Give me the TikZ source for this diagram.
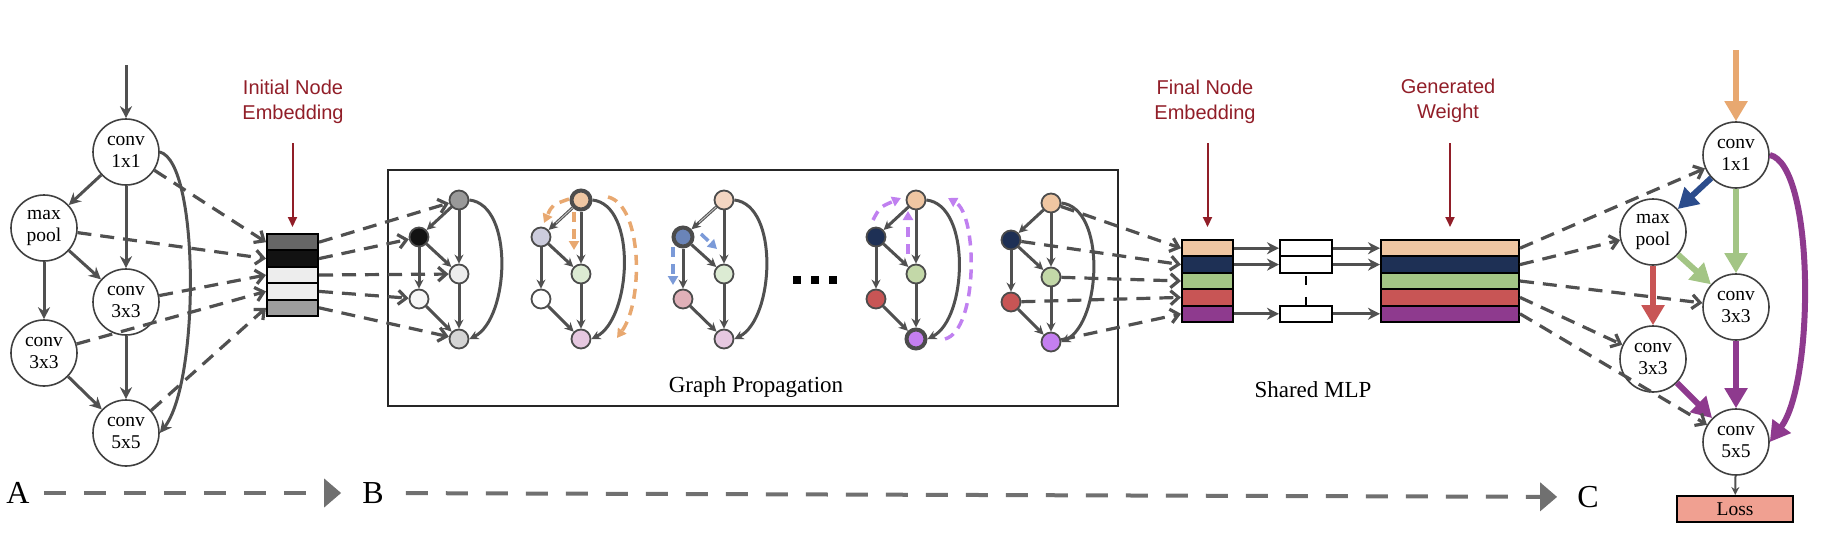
\documentclass[tikz,border=0pt]{standalone}
\usepackage{fontspec}
\setmainfont{Liberation Serif}
\newfontfamily\labelfont{Liberation Sans}
\usepackage{tikz}
\usetikzlibrary{arrows.meta}
\definecolor{dgray}{RGB}{80,80,80}
\definecolor{bgray}{RGB}{112,112,112}
\definecolor{embred}{RGB}{145,30,40}
\definecolor{peach}{RGB}{239,198,162}
\definecolor{peachl}{RGB}{244,214,194}
\definecolor{navy}{RGB}{30,48,85}
\definecolor{navyb}{RGB}{43,76,140}
\definecolor{greenc}{RGB}{163,197,133}
\definecolor{greenm}{RGB}{195,216,168}
\definecolor{greenl}{RGB}{220,235,211}
\definecolor{redc}{RGB}{200,85,85}
\definecolor{purplec}{RGB}{142,58,142}
\definecolor{purplel}{RGB}{196,127,240}
\definecolor{pinkl}{RGB}{230,200,224}
\definecolor{pinkc}{RGB}{224,176,184}
\definecolor{lav}{RGB}{204,204,221}
\definecolor{bluec}{RGB}{106,132,184}
\definecolor{orangec}{RGB}{232,168,112}
\definecolor{bluedash}{RGB}{123,154,216}
\definecolor{purdash}{RGB}{192,128,240}
\definecolor{lossc}{RGB}{240,160,145}

\begin{document}
\begin{tikzpicture}[x=1pt, y=-1pt,
  opnode/.style={circle, draw=black!75, line width=1.6pt, fill=white, minimum size=66pt, inner sep=0pt, align=center, font=\fontsize{19.5}{22}\selectfont},
  gnode/.style={circle, draw=black!70, line width=1.8pt, minimum size=19pt, inner sep=0pt},
  hot/.style={line width=4pt},
  edge/.style={draw=dgray, line width=3pt, -{Stealth[length=12pt,width=12pt]}},
  sedge/.style={draw=dgray, line width=3pt, -{Stealth[length=9pt,width=9pt]}},
  feed/.style={draw=dgray, line width=3.2pt, dash pattern=on 14pt off 9pt, -{Straight Barb[length=8pt,width=14pt]}},
  cell/.style={draw=black, line width=2pt, minimum height=16.4pt, inner sep=0pt},
  redlabel/.style={text=embred, font=\labelfont\fontsize{20}{25}\selectfont, align=center},
  redarrow/.style={draw=embred, line width=2pt, -{Triangle[length=10pt,width=9pt]}},
  msg/.style={line width=3.5pt, dash pattern=on 10pt off 7pt, -{Triangle[length=9pt,width=10pt]}},
  opflow/.style={line width=6pt, -{Triangle[length=20pt,width=22pt]}},
  phase/.style={draw=bgray, line width=4pt, dash pattern=on 22pt off 18pt, -{Triangle[length=17pt,width=28pt]}},
  caption/.style={font=\fontsize{23}{27}\selectfont},
  letter/.style={font=\fontsize{32}{36}\selectfont, inner sep=0pt}
]
\useasboundingbox (0,0) rectangle (1834,554);

\node[opnode] (c1) at (126,152) {conv\\1x1};
\node[opnode] (mp) at (44,228) {max\\pool};
\node[opnode] (c3) at (126,302) {conv\\3x3};
\node[opnode] (c3b) at (44,353) {conv\\3x3};
\node[opnode] (c5) at (126,433) {conv\\5x5};
\coordinate (in) at (126,65);
\draw[edge] (in) -- (c1);
\draw[edge] (c1) -- (mp);
\draw[edge] (c1) -- (c3);
\draw[edge] (mp) -- (c3);
\draw[edge] (mp) -- (c3b);
\draw[edge] (c3) -- (c5);
\draw[edge] (c3b) -- (c5);
\draw[edge] (c1.east) .. controls +(40,10) and +(40,-50) .. (c5.east);

\node[cell, minimum width=51pt, fill=black!60] (ie1) at (292.5,242.2) {};
\node[cell, minimum width=51pt, fill=black!93] (ie2) at (292.5,258.6) {};
\node[cell, minimum width=51pt, fill=black!7] (ie3) at (292.5,275) {};
\node[cell, minimum width=51pt, fill=black!7] (ie4) at (292.5,291.4) {};
\node[cell, minimum width=51pt, fill=black!38] (ie5) at (292.5,307.8) {};
\node[redlabel] (iel) at (293,102) {Initial Node\\Embedding};
\coordinate (ia) at (292.5,143);
\draw[redarrow, shorten >=6pt] (ia) -- (ie1.north);
\draw[feed] (c1) -- (ie1.west);
\draw[feed] (mp) -- (ie2.west);
\draw[feed] (c3) -- (ie3.west);
\draw[feed] (c3b) -- (ie4.west);
\draw[feed] (c5) -- (ie5.west);

\node[draw=black!85, line width=2pt, minimum width=730pt, minimum height=236pt, inner sep=0pt] (gp) at (753,288) {};
\node[caption] (gpl) at (756,387) {Graph Propagation};

\node[gnode, fill=black!40] (g1t) at (459,200) {};
\node[gnode, fill=black!93] (g1l) at (419,237) {};
\node[gnode, fill=black!7] (g1m) at (459,274) {};
\node[gnode, fill=black!3] (g1ll) at (419,299) {};
\node[gnode, fill=black!17] (g1b) at (459,339) {};
\draw[sedge] (g1t) -- (g1l);
\draw[sedge] (g1t) -- (g1m);
\draw[sedge] (g1l) -- (g1m);
\draw[sedge] (g1l) -- (g1ll);
\draw[sedge] (g1ll) -- (g1b);
\draw[sedge] (g1m) -- (g1b);
\draw[sedge] (g1t.east) .. controls +(45,5) and +(40,-20) .. (g1b.east);
\draw[feed] (ie1.east) -- (g1t);
\draw[feed] (ie2.east) -- (g1l);
\draw[feed] (ie3.east) -- (g1m);
\draw[feed] (ie4.east) -- (g1ll);
\draw[feed] (ie5.east) -- (g1b);

\node[gnode, hot, fill=peach] (g2t) at (581,200) {};
\node[gnode, fill=lav] (g2l) at (541,237) {};
\node[gnode, fill=greenl] (g2m) at (581,274) {};
\node[gnode, fill=white] (g2ll) at (541,299) {};
\node[gnode, fill=pinkl] (g2b) at (581,339) {};
\draw[sedge] (g2t) -- (g2l);
\draw[black!25, line width=1pt, shorten >=10pt] (g2t) -- (g2l);
\draw[sedge] (g2t) -- (g2m);
\draw[sedge] (g2l) -- (g2m);
\draw[sedge] (g2l) -- (g2ll);
\draw[sedge] (g2ll) -- (g2b);
\draw[sedge] (g2m) -- (g2b);
\draw[sedge] (g2t.east) .. controls +(45,5) and +(40,-20) .. (g2b.east);
\draw[msg, orangec] (569,199) .. controls (552,205) .. (544,223);
\draw[msg, orangec] (574,212) -- (574,250);
\draw[msg, orangec] (608,197) .. controls (642,205) and (644,300) .. (617,338);

\node[gnode, fill=peachl] (g3t) at (724,200) {};
\node[gnode, hot, fill=bluec] (g3l) at (683,237) {};
\node[gnode, fill=greenl] (g3m) at (724,274) {};
\node[gnode, fill=pinkc] (g3ll) at (683,299) {};
\node[gnode, fill=pinkl] (g3b) at (724,339) {};
\draw[sedge] (g3t) -- (g3l);
\draw[black!25, line width=1pt, shorten >=10pt] (g3t) -- (g3l);
\draw[sedge] (g3t) -- (g3m);
\draw[sedge] (g3l) -- (g3m);
\draw[sedge] (g3l) -- (g3ll);
\draw[sedge] (g3ll) -- (g3b);
\draw[sedge] (g3m) -- (g3b);
\draw[sedge] (g3t.east) .. controls +(45,5) and +(40,-20) .. (g3b.east);
\draw[msg, bluedash] (701,234) -- (717,249);
\draw[msg, bluedash] (673,247) -- (673,285);

\fill (793,276) rectangle (801,284);
\fill (811,276) rectangle (819,284);
\fill (829,276) rectangle (837,284);

\node[gnode, fill=peach] (g4t) at (916,200) {};
\node[gnode, fill=navy] (g4l) at (876,237) {};
\node[gnode, fill=greenm] (g4m) at (916,274) {};
\node[gnode, fill=redc] (g4ll) at (876,299) {};
\node[gnode, hot, fill=purplel] (g4b) at (916,339) {};
\draw[sedge] (g4t) -- (g4l);
\draw[sedge] (g4t) -- (g4m);
\draw[sedge] (g4l) -- (g4m);
\draw[sedge] (g4l) -- (g4ll);
\draw[sedge] (g4ll) -- (g4b);
\draw[sedge] (g4m) -- (g4b);
\draw[sedge] (g4t.east) .. controls +(45,5) and +(40,-20) .. (g4b.east);
\draw[msg, purdash] (873,220) .. controls (880,207) .. (901,198);
\draw[msg, purdash] (908,254) -- (908,211);
\draw[msg, purdash] (945,339) .. controls (978,330) and (978,215) .. (948,198);

\node[gnode, fill=peach] (g5t) at (1051,203) {};
\node[gnode, fill=navy] (g5l) at (1011,240) {};
\node[gnode, fill=greenm] (g5m) at (1051,277) {};
\node[gnode, fill=redc] (g5ll) at (1011,302) {};
\node[gnode, fill=purplel] (g5b) at (1051,342) {};
\draw[sedge] (g5t) -- (g5l);
\draw[sedge] (g5t) -- (g5m);
\draw[sedge] (g5l) -- (g5m);
\draw[sedge] (g5l) -- (g5ll);
\draw[sedge] (g5ll) -- (g5b);
\draw[sedge] (g5m) -- (g5b);
\draw[sedge] (g5t.east) .. controls +(45,5) and +(40,-20) .. (g5b.east);

\node[cell, minimum width=51pt, fill=peach] (fe1) at (1207.5,248.2) {};
\node[cell, minimum width=51pt, fill=navy] (fe2) at (1207.5,264.6) {};
\node[cell, minimum width=51pt, fill=greenc] (fe3) at (1207.5,281) {};
\node[cell, minimum width=51pt, fill=redc] (fe4) at (1207.5,297.4) {};
\node[cell, minimum width=51pt, fill=purplec] (fe5) at (1207.5,313.8) {};
\node[redlabel] (fel) at (1205,102) {Final Node\\Embedding};
\coordinate (fa) at (1207.5,143);
\draw[redarrow, shorten >=12pt] (fa) -- (fe1.north);
\draw[feed] (g5t) -- (fe1.west);
\draw[feed] (g5l) -- (fe2.west);
\draw[feed] (g5m) -- (fe3.west);
\draw[feed] (g5ll) -- (fe4.west);
\draw[feed] (g5b) -- (fe5.west);

\node[cell, minimum width=52pt, fill=white] (m1) at (1306,248.2) {};
\node[cell, minimum width=52pt, fill=white] (m2) at (1306,264.6) {};
\node[cell, minimum width=52pt, fill=white] (m3) at (1306,313.8) {};
\draw[black, line width=2.5pt, dash pattern=on 9pt off 12pt, dash phase=-2pt] (m2.south) -- (m3.north);
\node[caption] (mlpl) at (1313,390) {Shared MLP};

\node[cell, minimum width=138pt, fill=peach] (gw1) at (1450,248.2) {};
\node[cell, minimum width=138pt, fill=navy] (gw2) at (1450,264.6) {};
\node[cell, minimum width=138pt, fill=greenc] (gw3) at (1450,281) {};
\node[cell, minimum width=138pt, fill=redc] (gw4) at (1450,297.4) {};
\node[cell, minimum width=138pt, fill=purplec] (gw5) at (1450,313.8) {};
\node[redlabel] (gwl) at (1448,101) {Generated\\Weight};
\coordinate (ga) at (1450,143);
\draw[redarrow, shorten >=12pt] (ga) -- (gw1.north);
\draw[edge] (fe1.east) -- (m1.west);
\draw[edge] (fe2.east) -- (m2.west);
\draw[edge] (fe5.east) -- (m3.west);
\draw[edge] (m1.east) -- (gw1.west);
\draw[edge] (m2.east) -- (gw2.west);
\draw[edge] (m3.east) -- (gw5.west);

\node[opnode] (r1) at (1736,155) {conv\\1x1};
\node[opnode] (rmp) at (1653,232) {max\\pool};
\node[opnode] (r3) at (1736,307) {conv\\3x3};
\node[opnode] (r3b) at (1653,359) {conv\\3x3};
\node[opnode] (r5) at (1736,442) {conv\\5x5};
\node[draw=black, line width=2pt, fill=lossc, minimum width=116pt, minimum height=26pt, inner sep=0pt, font=\fontsize{19.5}{22}\selectfont] (loss) at (1735,509) {Loss};
\coordinate (rin) at (1736,50);
\draw[opflow, orangec] (rin) -- (r1);
\draw[opflow, navyb] (r1) -- (rmp);
\draw[opflow, greenc] (r1) -- (r3);
\draw[opflow, greenc] (rmp) -- (r3);
\draw[opflow, redc] (rmp) -- (r3b);
\draw[opflow, purplec] (r3) -- (r5);
\draw[opflow, purplec] (r3b) -- (r5);
\draw[opflow, purplec] (r1.east) .. controls +(45,10) and +(45,-60) .. (r5.east);
\draw[dgray, line width=2pt, -{Stealth[length=8pt,width=8pt]}] (r5) -- (loss);
\draw[feed] (gw1.east) -- (r1);
\draw[feed] (gw2.east) -- (rmp);
\draw[feed] (gw3.east) -- (r3);
\draw[feed] (gw4.east) -- (r3b);
\draw[feed] (gw5.east) -- (r5);

\node[letter] (A) at (18,493) {A};
\node[letter] (B) at (373,493) {B};
\node[letter] (C) at (1588,497) {C};
\draw[phase, shorten <=14pt, shorten >=21pt] (A) -- (B);
\draw[phase, shorten <=22pt, shorten >=20pt] (B) -- (C);
\end{tikzpicture}
\end{document}
